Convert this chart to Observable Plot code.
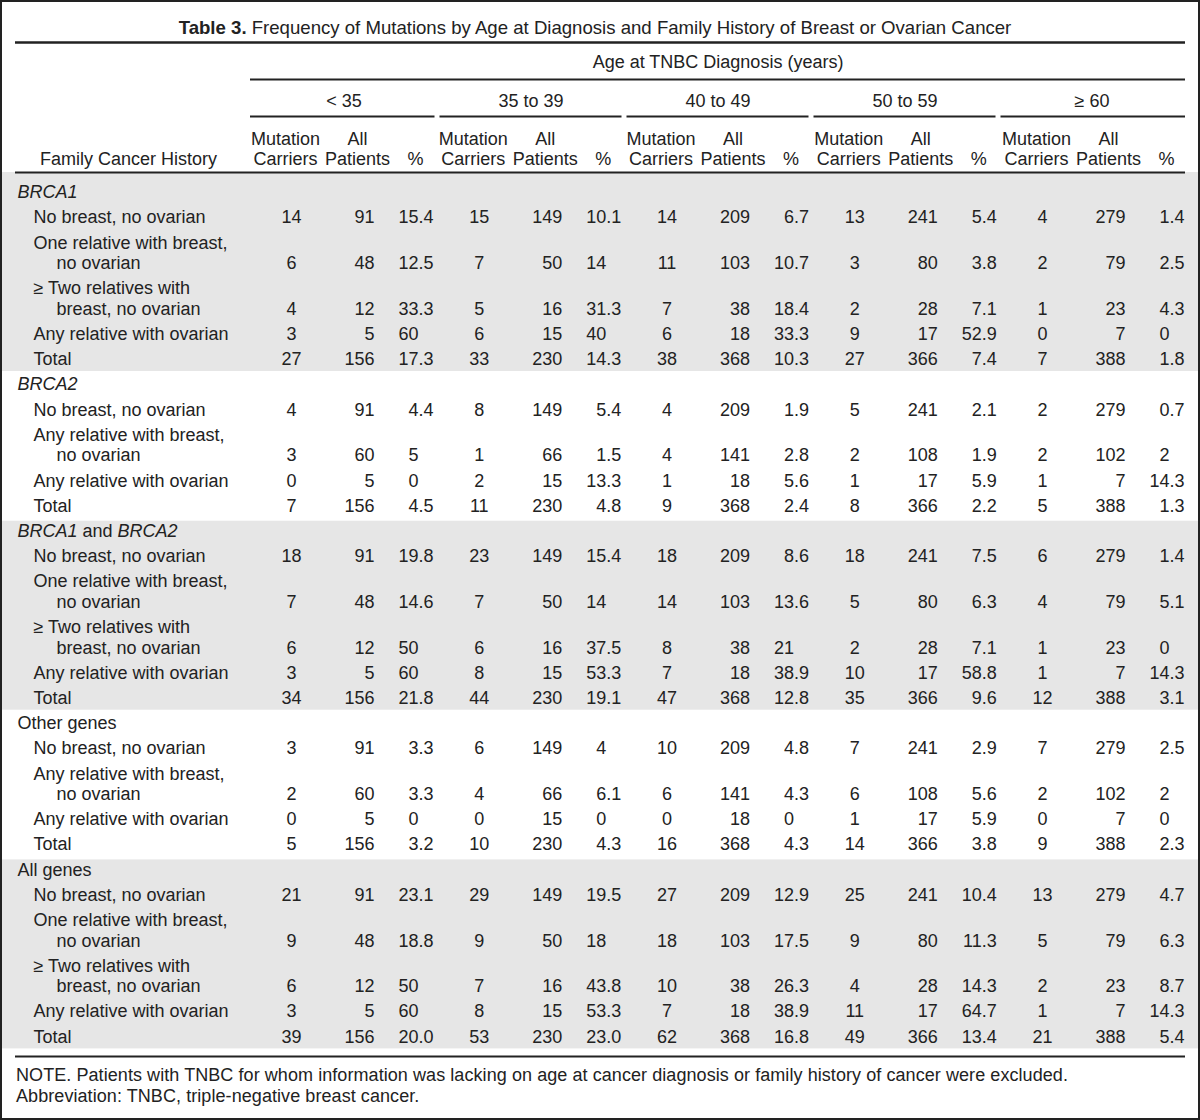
<!DOCTYPE html>
<html>
<head>
<meta charset="utf-8">
<script src="https://cdn.jsdelivr.net/npm/d3@7"></script>
<script src="https://cdn.jsdelivr.net/npm/@observablehq/plot@0.6"></script>
<style>
  html, body { margin: 0; padding: 0; background: #fff; }
  #wrap { position: relative; width: 1200px; height: 1120px; background: #fff; overflow: hidden; }
  #title { position: absolute; left: -5px; top: 18px; width: 1200px; text-align: center;
           font: 18.6px/20px "Liberation Sans", Arial, sans-serif; color: #222; white-space: nowrap; }
  #title b { font-family: "Liberation Sans Narrow", "Liberation Sans", sans-serif; font-weight: bold; }
  #chart { position: absolute; left: 0; top: 36px; }
  #note { position: absolute; left: 16px; top: 1065px; font: 18px/21px "Liberation Sans", Arial, sans-serif; color: #222; white-space: nowrap; letter-spacing: 0.07px; }
  #border { position: absolute; left: 0; top: 0; width: 1200px; height: 1120px; box-sizing: border-box; border: 2px solid #222; pointer-events: none; }
</style>
</head>
<body>
<div id="wrap">
  <div id="title"><b>Table 3.</b> Frequency of Mutations by Age at Diagnosis and Family History of Breast or Ovarian Cancer</div>
  <div id="chart"></div>
  <div id="note">NOTE. Patients with TNBC for whom information was lacking on age at cancer diagnosis or family history of cancer were excluded.<br>Abbreviation: TNBC, triple-negative breast cancer.</div>
  <div id="border"></div>
</div>
<script>
// ---------------- data ----------------
const spanner = "Age at TNBC Diagnosis (years)";
const stubHead = "Family Cancer History";
const ageGroups = ["< 35", "35 to 39", "40 to 49", "50 to 59", "≥ 60"];
const subHeadTop = ["Mutation", "All", ""];
const subHeadBottom = ["Carriers", "Patients", "%"];

const sectionNames = ["*BRCA1*", "*BRCA2*", "*BRCA1* and *BRCA2*", "Other genes", "All genes"];

const labelsBrca1 = [["No breast, no ovarian"], ["One relative with breast,", "no ovarian"], ["≥ Two relatives with", "breast, no ovarian"], ["Any relative with ovarian"], ["Total"]];
const carriersBrca1 = [[14, 15, 14, 13, 4], [6, 7, 11, 3, 2], [4, 5, 7, 2, 1], [3, 6, 6, 9, 0], [27, 33, 38, 27, 7]];
const patientsBrca1 = [[91, 149, 209, 241, 279], [48, 50, 103, 80, 79], [12, 16, 38, 28, 23], [5, 15, 18, 17, 7], [156, 230, 368, 366, 388]];
const percentBrca1 = [["15.4", "10.1", "6.7", "5.4", "1.4"], ["12.5", "14", "10.7", "3.8", "2.5"], ["33.3", "31.3", "18.4", "7.1", "4.3"], ["60", "40", "33.3", "52.9", "0"], ["17.3", "14.3", "10.3", "7.4", "1.8"]];

const labelsBrca2 = [["No breast, no ovarian"], ["Any relative with breast,", "no ovarian"], ["Any relative with ovarian"], ["Total"]];
const carriersBrca2 = [[4, 8, 4, 5, 2], [3, 1, 4, 2, 2], [0, 2, 1, 1, 1], [7, 11, 9, 8, 5]];
const patientsBrca2 = [[91, 149, 209, 241, 279], [60, 66, 141, 108, 102], [5, 15, 18, 17, 7], [156, 230, 368, 366, 388]];
const percentBrca2 = [["4.4", "5.4", "1.9", "2.1", "0.7"], ["5", "1.5", "2.8", "1.9", "2"], ["0", "13.3", "5.6", "5.9", "14.3"], ["4.5", "4.8", "2.4", "2.2", "1.3"]];

const labelsBoth = [["No breast, no ovarian"], ["One relative with breast,", "no ovarian"], ["≥ Two relatives with", "breast, no ovarian"], ["Any relative with ovarian"], ["Total"]];
const carriersBoth = [[18, 23, 18, 18, 6], [7, 7, 14, 5, 4], [6, 6, 8, 2, 1], [3, 8, 7, 10, 1], [34, 44, 47, 35, 12]];
const patientsBoth = [[91, 149, 209, 241, 279], [48, 50, 103, 80, 79], [12, 16, 38, 28, 23], [5, 15, 18, 17, 7], [156, 230, 368, 366, 388]];
const percentBoth = [["19.8", "15.4", "8.6", "7.5", "1.4"], ["14.6", "14", "13.6", "6.3", "5.1"], ["50", "37.5", "21", "7.1", "0"], ["60", "53.3", "38.9", "58.8", "14.3"], ["21.8", "19.1", "12.8", "9.6", "3.1"]];

const labelsOther = [["No breast, no ovarian"], ["Any relative with breast,", "no ovarian"], ["Any relative with ovarian"], ["Total"]];
const carriersOther = [[3, 6, 10, 7, 7], [2, 4, 6, 6, 2], [0, 0, 0, 1, 0], [5, 10, 16, 14, 9]];
const patientsOther = [[91, 149, 209, 241, 279], [60, 66, 141, 108, 102], [5, 15, 18, 17, 7], [156, 230, 368, 366, 388]];
const percentOther = [["3.3", "4", "4.8", "2.9", "2.5"], ["3.3", "6.1", "4.3", "5.6", "2"], ["0", "0", "0", "5.9", "0"], ["3.2", "4.3", "4.3", "3.8", "2.3"]];

const labelsAll = [["No breast, no ovarian"], ["One relative with breast,", "no ovarian"], ["≥ Two relatives with", "breast, no ovarian"], ["Any relative with ovarian"], ["Total"]];
const carriersAll = [[21, 29, 27, 25, 13], [9, 9, 18, 9, 5], [6, 7, 10, 4, 2], [3, 8, 7, 11, 1], [39, 53, 62, 49, 21]];
const patientsAll = [[91, 149, 209, 241, 279], [48, 50, 103, 80, 79], [12, 16, 38, 28, 23], [5, 15, 18, 17, 7], [156, 230, 368, 366, 388]];
const percentAll = [["23.1", "19.5", "12.9", "10.4", "4.7"], ["18.8", "18", "17.5", "11.3", "6.3"], ["50", "43.8", "26.3", "14.3", "8.7"], ["60", "53.3", "38.9", "64.7", "14.3"], ["20.0", "23.0", "16.8", "13.4", "5.4"]];

// ---------------- layout ----------------
const FONT = "Liberation Sans";
const FS = 18;
const INK = "#222";
const BAND = "#e6e6e6";
const L = {
  tableLeft: 15, tableRight: 1185, spanLeft: 250,
  ruleTitle: 42, ruleSpanner: 79, ruleGroups: 116, ruleHead: 172, ruleBottom: 1056,
  ySpanner: 62, yGroups: 101, yHead1: 139, yHead2: 159,
  yFirst: 192, rowStep: 25.2, lineStep: 20.5,
  xSection: 17, xRow: 33, xCont: 56, xStub: 128,
  mc0: 291, ap0: 374, dec0: 418, colStep: 187.75, groupStep: 187, groupGap: 2.5,
  bandLeft: 2, bandRight: 1198, bandPadTop: 10, bandPadBottom: 12
};

const sections = [
  {name: sectionNames[0], labels: labelsBrca1, carriers: carriersBrca1, patients: patientsBrca1, percent: percentBrca1},
  {name: sectionNames[1], labels: labelsBrca2, carriers: carriersBrca2, patients: patientsBrca2, percent: percentBrca2},
  {name: sectionNames[2], labels: labelsBoth, carriers: carriersBoth, patients: patientsBoth, percent: percentBoth},
  {name: sectionNames[3], labels: labelsOther, carriers: carriersOther, patients: patientsOther, percent: percentOther},
  {name: sectionNames[4], labels: labelsAll, carriers: carriersAll, patients: patientsAll, percent: percentAll}
];

const ctx = document.createElement("canvas").getContext("2d");
function measure(t, style) { ctx.font = `${style} ${FS}px "${FONT}"`; return ctx.measureText(t).width; }

const texts = [];   // {x, y, text, anchor, style}
const bands = [];
const rules = [
  {y: L.ruleTitle, x1: L.tableLeft, x2: L.tableRight, w: 2.5},
  {y: L.ruleSpanner, x1: L.spanLeft, x2: L.tableRight, w: 2},
  {y: L.ruleHead, x1: L.tableLeft, x2: L.tableRight, w: 2},
  {y: L.ruleBottom, x1: L.tableLeft, x2: L.tableRight, w: 2}
];

// header
texts.push({x: (L.spanLeft + L.tableRight) / 2, y: L.ySpanner, text: spanner, anchor: "middle", style: "normal"});
texts.push({x: L.xStub, y: L.yHead2, text: stubHead, anchor: "middle", style: "normal"});
ageGroups.forEach((g, k) => {
  const x1 = L.spanLeft + L.groupStep * k, x2 = x1 + L.groupStep;
  rules.push({y: L.ruleGroups, x1: x1 + (k > 0 ? L.groupGap : 0), x2: x2 - (k < ageGroups.length - 1 ? L.groupGap : 0), w: 2});
  texts.push({x: (x1 + x2) / 2, y: L.yGroups, text: g, anchor: "middle", style: "normal"});
  const mc = L.mc0 + L.colStep * k, ap = L.ap0 + L.colStep * k, dec = L.dec0 + L.colStep * k;
  const hx = [mc - 6, ap - 17, dec - 3];
  subHeadTop.forEach((t, j) => { if (t) texts.push({x: hx[j], y: L.yHead1, text: t, anchor: "middle", style: "normal"}); });
  subHeadBottom.forEach((t, j) => texts.push({x: hx[j], y: L.yHead2, text: t, anchor: "middle", style: "normal"}));
});

// body
let y = L.yFirst;
sections.forEach((s, si) => {
  if (si > 0) y += L.rowStep;
  const top = si === 0 ? L.ruleHead : y - L.bandPadTop;
  // section name with italic pieces
  let x = L.xSection;
  s.name.split("*").forEach((piece, pi) => {
    if (!piece) return;
    const style = pi % 2 === 1 ? "italic" : "normal";
    texts.push({x, y, text: piece, anchor: "start", style});
    x += measure(piece, style);
  });
  s.labels.forEach((lines, ri) => {
    y += L.rowStep;
    lines.forEach((ln, li) => {
      if (li > 0) y += L.lineStep;
      texts.push({x: li === 0 ? L.xRow : L.xCont, y, text: ln, anchor: "start", style: "normal"});
    });
    ageGroups.forEach((g, k) => {
      const mc = L.mc0 + L.colStep * k, ap = L.ap0 + L.colStep * k, dec = L.dec0 + L.colStep * k;
      texts.push({x: mc, y, text: String(s.carriers[ri][k]), anchor: "middle", style: "normal"});
      texts.push({x: ap, y, text: String(s.patients[ri][k]), anchor: "end", style: "normal"});
      const p = s.percent[ri][k];
      const i = p.indexOf(".");
      texts.push({x: dec, y, text: i < 0 ? p : p.slice(0, i), anchor: "end", style: "normal"});
      if (i >= 0) texts.push({x: dec, y, text: p.slice(i), anchor: "start", style: "normal"});
    });
  });
  if (si % 2 === 0) bands.push({x1: L.bandLeft, x2: L.bandRight, y1: top, y2: y + L.bandPadBottom});
});

function textMark(anchor, style) {
  return Plot.text(texts.filter(d => d.anchor === anchor && d.style === style), {
    x: "x", y: "y", text: "text", textAnchor: anchor, fontStyle: style,
    fontSize: FS, fontFamily: FONT, fill: INK
  });
}

const chart = Plot.plot({
  width: 1200, height: 1024,
  marginTop: 0, marginRight: 0, marginBottom: 0, marginLeft: 0,
  x: {type: "linear", domain: [0, 1200], range: [0, 1200], axis: null},
  y: {type: "linear", domain: [36, 1060], range: [0, 1024], axis: null},
  style: {background: "transparent", fontFamily: FONT, fontSize: FS + "px", color: INK},
  marks: [
    Plot.rect(bands, {x1: "x1", x2: "x2", y1: "y1", y2: "y2", fill: BAND}),
    Plot.ruleY(rules.filter(r => r.w === 2), {y: "y", x1: "x1", x2: "x2", stroke: INK, strokeWidth: 2}),
    Plot.ruleY(rules.filter(r => r.w === 2.5), {y: "y", x1: "x1", x2: "x2", stroke: INK, strokeWidth: 2.5}),
    textMark("start", "normal"),
    textMark("start", "italic"),
    textMark("middle", "normal"),
    textMark("end", "normal")
  ]
});
document.getElementById("chart").appendChild(chart);
</script>
</body>
</html>
